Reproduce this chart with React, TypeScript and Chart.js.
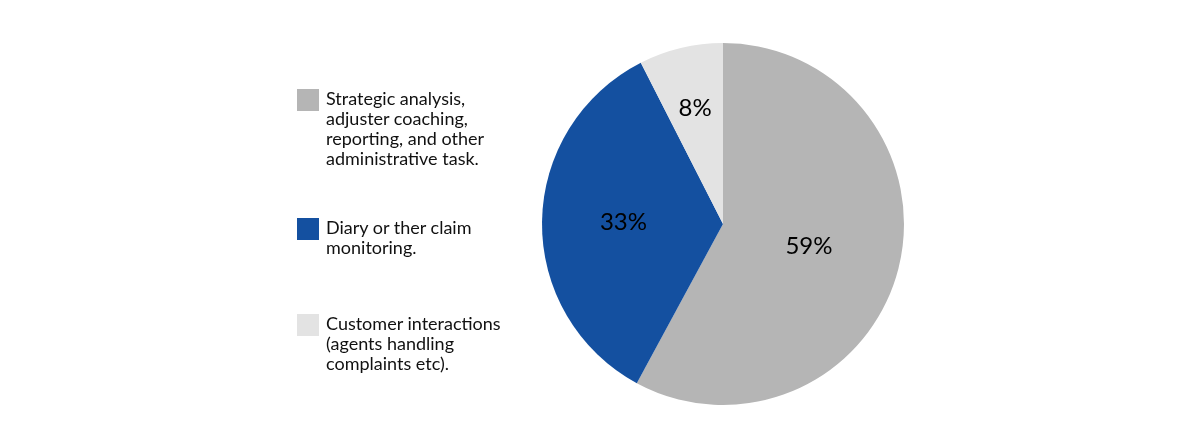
import React, { useEffect, useRef } from "react";
import { Chart, registerables } from "chart.js";

Chart.register(...registerables);

const categories: string[][] = [
  ["Strategic analysis,", "adjuster coaching,", "reporting, and other", "administrative task."],
  ["Diary or ther claim", "monitoring."],
  ["Customer interactions", "(agents handling", "complaints etc)."],
];
// slice sizes as drawn in the picture
const values: number[] = [57.9, 34.6, 7.5];
// labels as printed on the slices
const valueLabels: string[] = ["59%", "33%", "8%"];
const colors: string[] = ["#b5b5b5", "#1450a0", "#e3e3e3"];
const labelRadiusFraction: number[] = [0.49, 0.55, 0.66];
const legendTops: number[] = [89, 218, 314];

const FONT = "Lato, 'Open Sans', sans-serif";

const sliceLabelPlugin = {
  id: "sliceLabels",
  afterDatasetsDraw(chart: any) {
    const ctx = chart.ctx;
    const meta = chart.getDatasetMeta(0);
    ctx.save();
    ctx.font = `24px ${FONT}`;
    ctx.fillStyle = "#000000";
    ctx.textAlign = "center";
    ctx.textBaseline = "middle";
    meta.data.forEach((arc: any, i: number) => {
      const { x, y, startAngle, endAngle, outerRadius } = arc.getProps(
        ["x", "y", "startAngle", "endAngle", "outerRadius"],
        true
      );
      const mid = (startAngle + endAngle) / 2;
      const r = outerRadius * labelRadiusFraction[i];
      ctx.fillText(valueLabels[i], x + Math.cos(mid) * r, y + Math.sin(mid) * r);
    });
    ctx.restore();
  },
};

export default function App() {
  const canvasRef = useRef<HTMLCanvasElement | null>(null);

  useEffect(() => {
    if (!canvasRef.current) return;
    const chart = new Chart(canvasRef.current, {
      type: "pie",
      data: {
        labels: categories.map((c) => c.join(" ")),
        datasets: [
          {
            data: values,
            backgroundColor: colors,
            borderWidth: 0,
          },
        ],
      },
      options: {
        animation: false,
        responsive: false,
        maintainAspectRatio: false,
        layout: { padding: { left: 542, right: 296, top: 43, bottom: 27 } },
        plugins: {
          legend: { display: false },
          tooltip: { enabled: false },
        },
      },
      plugins: [sliceLabelPlugin],
    });
    return () => chart.destroy();
  }, []);

  return (
    <div
      style={{
        position: "fixed",
        left: 0,
        top: 0,
        width: 1200,
        height: 432,
        background: "#ffffff",
        fontFamily: FONT,
      }}
    >
      <canvas ref={canvasRef} width={1200} height={432} style={{ display: "block" }} />
      {categories.map((lines, i) => (
        <div key={i} style={{ position: "absolute", left: 297, top: legendTops[i] }}>
          <div
            style={{
              position: "absolute",
              left: 0,
              top: 0,
              width: 22,
              height: 22,
              background: colors[i],
            }}
          />
          <div
            style={{
              position: "absolute",
              left: 29,
              top: -1,
              fontSize: 18,
              lineHeight: "20px",
              color: "#111111",
              whiteSpace: "nowrap",
            }}
          >
            {lines.map((l, j) => (
              <div key={j}>{l}</div>
            ))}
          </div>
        </div>
      ))}
    </div>
  );
}
